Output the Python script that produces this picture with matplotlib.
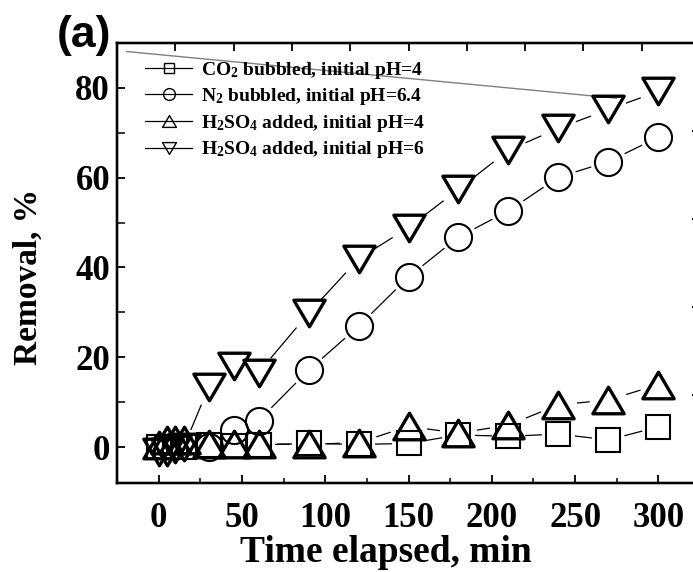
import numpy as np
import matplotlib
matplotlib.use("Agg")
import matplotlib.pyplot as plt
from matplotlib.lines import Line2D
from matplotlib.path import Path

# ---------------- data ----------------
time_min = [0, 5, 10, 15, 30, 45, 60, 90, 120, 150, 180, 210, 240, 270, 300]
time_n2 = [30, 45, 60, 90, 120, 150, 180, 210, 240, 270, 300]
co2_ph4 = [0, 0, 0, 0, 0.5, 0.3, 0.5, 0.8, 0.6, 0.8, 2.7, 2.4, 2.9, 1.6, 4.5]
n2_ph64 = [0, 3.7, 5.9, 17.1, 26.9, 37.9, 46.8, 52.6, 60.1, 63.6, 69.0]
h2so4_ph4 = [0.5, 1.5, 1.5, 1.5, 0.7, 0.7, 0.7, 0.6, 1.0, 4.6, 3.1, 4.9, 9.4, 10.5, 13.9]
h2so4_ph6 = [-1, -1, -0.5, 0, 13.3, 18.0, 16.6, 29.8, 41.9, 48.9, 57.4, 66.1, 71.0, 75.2, 79.2]
labels = [r"CO$_2$ bubbled, initial pH=4",
          r"N$_2$ bubbled, initial pH=6.4",
          r"H$_2$SO$_4$ added, initial pH=4",
          r"H$_2$SO$_4$ added, initial pH=6"]
x_ticks = [0, 50, 100, 150, 200, 250, 300]
y_ticks = [0, 20, 40, 60, 80]
stray_line_x = [-19.2, 274.8]
stray_line_y = [88.1, 77.7]

# ---------------- style ----------------
plt.rcParams['font.family'] = ['Liberation Serif', 'DejaVu Serif']
plt.rcParams['font.weight'] = 'bold'
plt.rcParams['mathtext.fontset'] = 'custom'
plt.rcParams['mathtext.rm'] = 'Liberation Serif:bold'
plt.rcParams['mathtext.it'] = 'Liberation Serif:bold'
plt.rcParams['mathtext.bf'] = 'Liberation Serif:bold'
plt.rcParams['mathtext.default'] = 'rm'

fig = plt.figure(figsize=(6.93, 5.72), dpi=100)
ax = fig.add_axes([117/693, 1-483/572, 583/693, 440/572])
ax.set_xlim(-25, 325)
ax.set_ylim(-8, 90)

tri_up = Path([(-1, -0.85), (1, -0.85), (0, 0.85), (-1, -0.85)], closed=True)
tri_dn = Path([(-1, 0.85), (1, 0.85), (0, -0.85), (-1, 0.85)], closed=True)

series = [
    (time_min, co2_ph4, 's', 17.5, 1.5, 9.5),
    (time_n2, n2_ph64, 'o', 19.5, 1.5, 10.5),
    (time_min, h2so4_ph4, tri_up, 22.5, 2.4, 11.0),
    (time_min, h2so4_ph6, tri_dn, 22.5, 2.4, 11.0),
]

def gapped_line(ax, x, y, gap_px, **kw):
    pts = ax.transData.transform(np.column_stack([x, y]))
    inv = ax.transData.inverted()
    for i in range(len(pts) - 1):
        p0, p1 = pts[i], pts[i + 1]
        d = p1 - p0
        L = np.hypot(*d)
        if L <= 2 * gap_px + 2:
            continue
        u = d / L
        seg = inv.transform([p0 + u * gap_px, p1 - u * gap_px])
        ax.plot(seg[:, 0], seg[:, 1], **kw)

# stray grey line
ax.plot(stray_line_x, stray_line_y, color='#808080', lw=1.0, zorder=1)

for tx, vals, mk, ms, mew, gap_pt in series:
    gapped_line(ax, tx, vals, gap_pt * 100 / 72 + 4, color='black', lw=0.9, zorder=2)
    ax.plot(tx, vals, linestyle='none', marker=mk, markersize=ms,
            markerfacecolor='none', markeredgecolor='black', markeredgewidth=mew, zorder=3)

# legend
handles = []
leg_specs = [('s', 7, 1.0), ('o', 8.5, 1.0), (tri_up, 10, 1.0), (tri_dn, 10, 1.0)]
for mk, ms, mew in leg_specs:
    handles.append(Line2D([], [], color='black', lw=0.9, marker=mk, markersize=ms,
                          markerfacecolor='none', markeredgecolor='black', markeredgewidth=mew))
leg = ax.legend(handles, labels, loc='upper left', bbox_to_anchor=(0.035, 0.98),
                frameon=False, fontsize=14, handlelength=2.4, handletextpad=0.45,
                labelspacing=0.29, borderaxespad=0.0)

# ticks
ax.set_xticks(x_ticks)
ax.set_xticks(np.arange(-25, 326, 25), minor=True)
ax.set_yticks(y_ticks)
ax.set_yticks(np.arange(0, 91, 10), minor=True)
ax.tick_params(axis='both', which='major', direction='in', length=6, width=1.3,
               labelsize=25, top=False, right=False)
ax.tick_params(axis='x', which='minor', direction='in', length=3.5, width=1.1, top=False)
ax.tick_params(axis='y', which='minor', direction='in', length=6, width=1.1, right=False)
ax.tick_params(axis='x', which='major', pad=14)
ax.tick_params(axis='y', which='major', pad=5)
for lab in ax.get_xticklabels() + ax.get_yticklabels():
    lab.set_fontweight('bold')

for sp in ax.spines.values():
    sp.set_linewidth(1.6)

ax.set_xlabel("Time elapsed, min", fontsize=27, fontweight='bold')
ax.xaxis.set_label_coords((386 - 117) / 583, -(553 - 483) / 440)
ax.xaxis.label.set_va('center')
ax.set_ylabel("Removal, %", fontsize=24, fontweight='bold')
ax.yaxis.set_label_coords((28 - 117) / 583, (483 - 277) / 440)
ax.yaxis.label.set_va('center')

# top and right ticks (independent, as in the original)
ax_top = ax.twiny()
ax_top.set_xlim(0, 10)
ax_top.set_xticks(range(11))
ax_top.set_xticklabels([])
ax_top.tick_params(axis='x', direction='in', length=6, width=1.3)
ax_right = ax.twinx()
ax_right.set_ylim(0, 5)
ax_right.set_yticks(range(6))
ax_right.set_yticklabels([])
ax_right.tick_params(axis='y', direction='in', length=6, width=1.3)
for a in (ax_top, ax_right):
    for sp in a.spines.values():
        sp.set_linewidth(1.6)

fig.text(57/693, 1-35/572, "(a)", fontsize=32, fontweight='bold',
         family=['Liberation Sans', 'DejaVu Sans'], va='center', ha='left')

fig.savefig("out.png", dpi=100)
